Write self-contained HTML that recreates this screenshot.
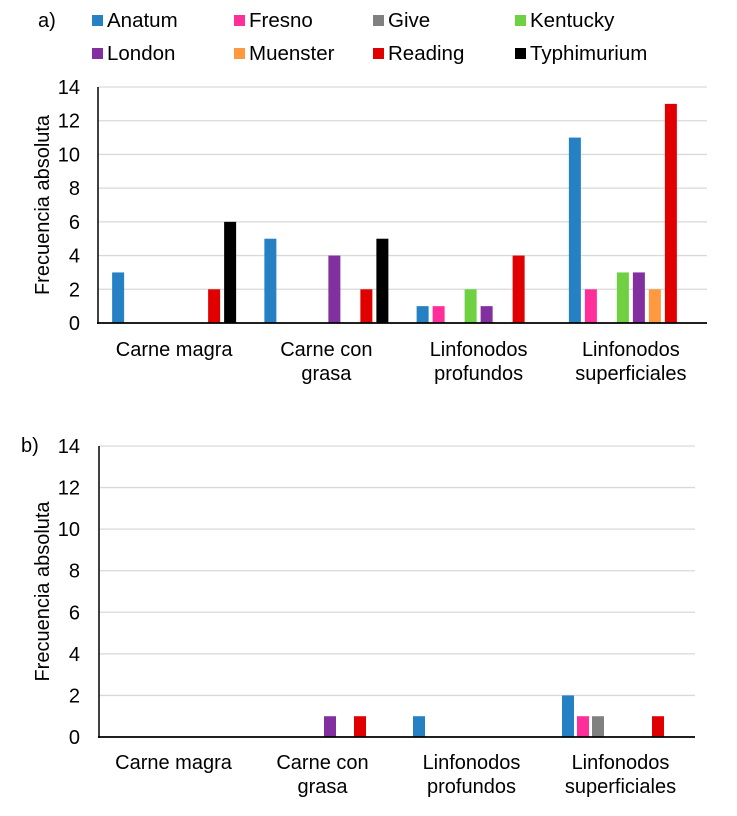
<!DOCTYPE html>
<html><head><meta charset="utf-8"><style>
html,body{margin:0;padding:0;background:#fff;}
svg{display:block;font-family:"Liberation Sans",Arial,sans-serif;}
</style></head><body>
<svg id="svg" width="737" height="816" viewBox="0 0 737 816"></svg>
<script>
const series = ["Anatum","Fresno","Give","Kentucky","London","Muenster","Reading","Typhimurium"];
const colors = ["#2581c4","#ff2f9a","#808080","#6fd142","#8230a0","#ff993f","#e10000","#000000"];
const categories = [["Carne magra"],["Carne con","grasa"],["Linfonodos","profundos"],["Linfonodos","superficiales"]];
const yTicks = [0,2,4,6,8,10,12,14];
// values[category][series]
const valuesA = [
  [3,0,0,0,0,0,2,6],
  [5,0,0,0,4,0,2,5],
  [1,1,0,2,1,0,4,0],
  [11,2,0,3,3,2,13,0]
];
const valuesB = [
  [0,0,0,0,0,0,0,0],
  [0,0,0,0,1,0,1,0],
  [1,0,0,0,0,0,0,0],
  [2,1,1,0,0,0,1,0]
];
const NS="http://www.w3.org/2000/svg";
const svg=document.getElementById('svg');
function mk(tag,attrs,parent){const e=document.createElementNS(NS,tag);for(const k in attrs)e.setAttribute(k,attrs[k]);(parent||svg).appendChild(e);return e;}
const FS='20';

// legend
const leg=mk('g',{});


const legX=[92,234,373,515], legY=[20,53];
series.forEach((s,i)=>{
  const g=mk('g',{},leg);
  
  
  const x=legX[i%4], y=legY[Math.floor(i/4)];
  mk('rect',{x:x,y:y-5,width:11,height:11,fill:colors[i]},g);
  const t=mk('text',{x:x+15,y:y+7,'font-size':'20.5',fill:'#000'},g);
  t.textContent=s;
});

function chart(name,label,labelX,labelY,values,x0,x1,y0,y14,step,catY){
  const g=mk('g',{});
  
  
  const lt=mk('text',{x:labelX,y:labelY,'font-size':FS},g);
  lt.textContent=label;
  
  
  const yS=v=>y0-(y0-y14)*v/14;
  yTicks.forEach(v=>{
    if(v>0){const l=mk('line',{x1:x0,x2:x1,y1:yS(v),y2:yS(v),stroke:'#d9d9d9','stroke-width':1.3},g);
      
      }
    const t=mk('text',{x:80,y:yS(v)+7,'font-size':FS,'text-anchor':'end'},g);
    t.textContent=v;
    
    
  });
  const yt=mk('text',{x:0,y:0,'font-size':FS,'text-anchor':'middle',transform:`translate(49,${(y0+y14)/2}) rotate(-90)`},g);
  yt.textContent='Frecuencia absoluta';
  
  
  const cw=(x1-x0)/categories.length;
  values.forEach((row,c)=>{
    const cx=x0+cw*(c+0.5);
    row.forEach((v,s)=>{
      if(v<=0)return;
      const bx=cx+(s-3.5)*step-6;
      const r=mk('rect',{x:bx,y:yS(v),width:12,height:y0-yS(v),fill:colors[s]},g);
      
      
    });
    categories[c].forEach((ln,k)=>{
      const t=mk('text',{x:cx,y:catY+k*24,'font-size':FS,'text-anchor':'middle'},g);
      t.textContent=ln;
      
      
    });
  });
  const ax=mk('line',{x1:x0,x2:x0,y1:y14,y2:y0+1,stroke:'#000','stroke-width':1.5},g);
  
  
  const bx=mk('line',{x1:x0-1,x2:x1,y1:y0,y2:y0,stroke:'#000','stroke-width':1.8},g);
  
  
}
chart('chart-a','a)',38,27,valuesA,98,707,323,87,16,356);
chart('chart-b','b)',21,452,valuesB,99,695,737,446,15,769);
</script>
</body></html>
